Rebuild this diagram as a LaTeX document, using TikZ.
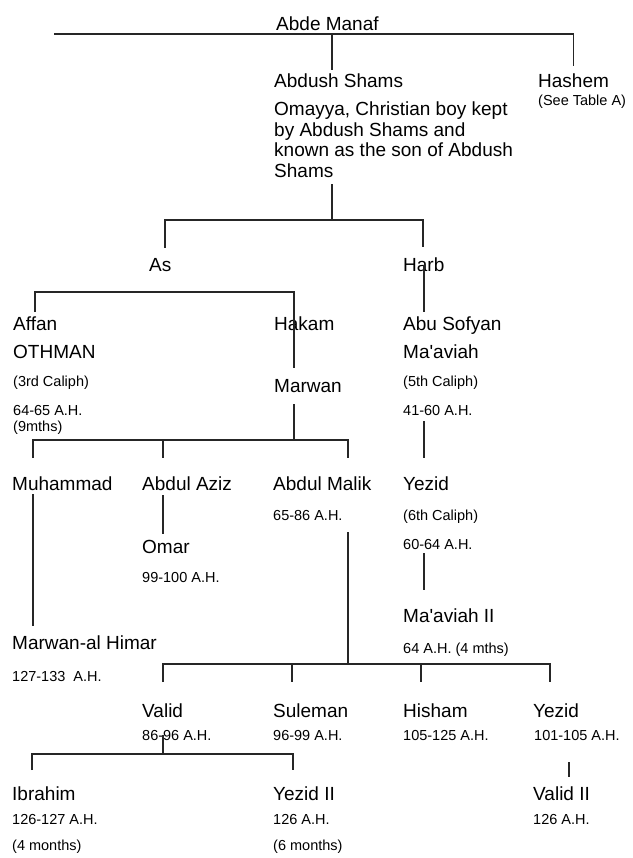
\documentclass[tikz,border=0pt]{standalone}
\usepackage{fontspec}
\setmainfont{Liberation Sans}
\usepackage{tikz}
\usetikzlibrary{positioning}
\tikzset{%
  person/.style={
    anchor=base west,
    inner sep=0pt,
    font=\fontsize{19}{20.5}\selectfont
  },
  dates/.style={
    anchor=base west,
    inner sep=0pt,
    font=\fontsize{14.5}{17}\selectfont
  },
  link/.style={
    line width=1.7pt,
    black!85
  },
}
\begin{document}
\begin{tikzpicture}[x=1pt, y=-1pt]
\useasboundingbox (0,0) rectangle (632,858);

% names and reigns
\node[person] (manaf) at (276,31) {Abde Manaf};
\node[person] (shams) at (274,88) {Abdush Shams};
\node[person] (hashem) at (538,88) {Hashem};
\node[dates] (seetab) at (538,106) {(See Table A)};
\node[person, anchor=north west, align=left] (omayya) at (274,102)
  {Omayya, Christian boy kept\\by Abdush Shams and\\known as the son of Abdush\\Shams};

\node[person] (as) at (149,272) {As};
\node[person] (harb) at (403,272) {Harb};

\node[person] (affan) at (13,330) {Affan};
\node[person] (othman) at (13,358) {OTHMAN};
\node[dates] (cal3) at (13,386) {(3rd Caliph)};
\node[dates] (othah) at (13,415) {64-65 A.H.};
\node[dates] (othm) at (13,431) {(9mths)};
\node[person] (hakam) at (274,330) {Hakam};
\node[person] (marwan) at (274,392) {Marwan};
\node[person] (sofyan) at (403,330) {Abu Sofyan};
\node[person] (maav) at (403,358) {Ma\textquotesingle aviah};
\node[dates] (cal5) at (403,386) {(5th Caliph)};
\node[dates] (sofah) at (403,415) {41-60 A.H.};

\node[person] (muhammad) at (12,490) {Muhammad};
\node[person] (aziz) at (142,490) {Abdul Aziz};
\node[person] (malik) at (273,490) {Abdul Malik};
\node[dates] (malikah) at (273,520) {65-86 A.H.};
\node[person] (yezid) at (403,490) {Yezid};
\node[dates] (cal6) at (403,520) {(6th Caliph)};
\node[dates] (yezidah) at (403,549) {60-64 A.H.};
\node[person] (omar) at (142,553) {Omar};
\node[dates] (omarah) at (142,582) {99-100 A.H.};
\node[person] (maav2) at (403,622) {Ma\textquotesingle aviah II};
\node[dates] (maav2ah) at (403,653) {64 A.H. (4 mths)};
\node[person] (himar) at (12,649) {Marwan-al Himar};
\node[dates] (himarah) at (12,681) {127-133~ A.H.};

\node[person] (valid) at (142,717) {Valid};
\node[dates] (validah) at (142,740) {86-96 A.H.};
\node[person] (suleman) at (273,717) {Suleman};
\node[dates] (sulah) at (273,740) {96-99 A.H.};
\node[person] (hisham) at (403,717) {Hisham};
\node[dates] (hishah) at (403,740) {105-125 A.H.};
\node[person] (yezidb) at (533,717) {Yezid};
\node[dates] (yezidbah) at (534,740) {101-105 A.H.};

\node[person] (ibrahim) at (12,800) {Ibrahim};
\node[dates] (ibrah) at (12,824) {126-127 A.H.};
\node[dates] (ibrm) at (12,850) {(4 months)};
\node[person] (yezid2) at (273,800) {Yezid II};
\node[dates] (yez2ah) at (273,824) {126 A.H.};
\node[dates] (yez2m) at (273,850) {(6 months)};
\node[person] (valid2) at (533,800) {Valid II};
\node[dates] (val2ah) at (533,824) {126 A.H.};

% family bars
\coordinate (mleft) at (54,34);
\coordinate (mjoin) at (332,34);
\coordinate (sjoin) at (332,220);
\coordinate (asdrop) at (165,220);
\coordinate (hdrop) at (423,220);
\coordinate (afdrop) at (35,292);
\coordinate (hkdrop) at (294,292);
\coordinate (mwjoin) at (294,440);
\coordinate (mudrop) at (33,440);
\coordinate (azdrop) at (163,440);
\coordinate (mkdrop) at (348,440);
\coordinate (mljoin) at (348,664);
\coordinate (vadrop) at (163,664);
\coordinate (sudrop) at (292,664);
\coordinate (hidrop) at (421,664);
\coordinate (yedrop) at (550,664);
\coordinate (vljoin) at (163,754);
\coordinate (ibdrop) at (32,754);
\coordinate (y2drop) at (293,754);
\coordinate (v2drop) at (569,762);

\draw[link, shorten >=8pt] (mleft) -| (hashem.north);
\draw[link, shorten >=4pt] (mjoin) -- (mjoin |- shams.north);
\draw[link, shorten >=6pt] (sjoin) -- (sjoin |- omayya.south);
\draw[link, shorten <=11pt, shorten >=11pt] (asdrop |- as.north) -- (asdrop) -- (hdrop) -- (hdrop |- harb.north);
\draw[link, shorten >=4pt] (harb.center) -- (harb.center |- sofyan.north);

\draw[link, shorten <=4pt, shorten >=11pt] (afdrop |- affan.north) -- (afdrop) -- (hkdrop) -- (hkdrop |- marwan.north);
\draw[link, shorten <=12pt] (mwjoin |- marwan.south) -- (mwjoin);
\draw[link, shorten <=6pt, shorten >=18pt] (harb.center |- sofah.south) -- (harb.center |- yezid.north);

\draw[link, shorten <=18pt, shorten >=18pt] (mudrop |- muhammad.north) -- (mudrop) -- (mkdrop) -- (mkdrop |- malik.north);
\draw[link, shorten >=18pt] (azdrop) -- (azdrop |- aziz.north);
\draw[link, shorten <=4pt, shorten >=9pt] (mudrop |- muhammad.south) -- (mudrop |- himar.north);
\draw[link, shorten <=5pt, shorten >=6pt] (azdrop |- aziz.south) -- (azdrop |- omar.north);
\draw[link, shorten <=4pt, shorten >=18pt] (harb.center |- yezidah.south) -- (harb.center |- maav2.north);
\draw[link, shorten <=12pt] (mkdrop |- malikah.south) -- (mljoin);

\draw[link, shorten <=21pt, shorten >=21pt] (vadrop |- valid.north) -- (vadrop) -- (yedrop) -- (yedrop |- yezidb.north);
\draw[link, shorten >=21pt] (sudrop) -- (sudrop |- suleman.north);
\draw[link, shorten >=21pt] (hidrop) -- (hidrop |- hisham.north);

\draw[link] (vljoin |- validah.center) -- (vljoin);
\draw[link, shorten <=16pt, shorten >=16pt] (ibdrop |- ibrahim.north) -- (ibdrop) -- (y2drop) -- (y2drop |- yezid2.north);
\draw[link, shorten >=9pt] (v2drop) -- (v2drop |- valid2.north);
\end{tikzpicture}
\end{document}
